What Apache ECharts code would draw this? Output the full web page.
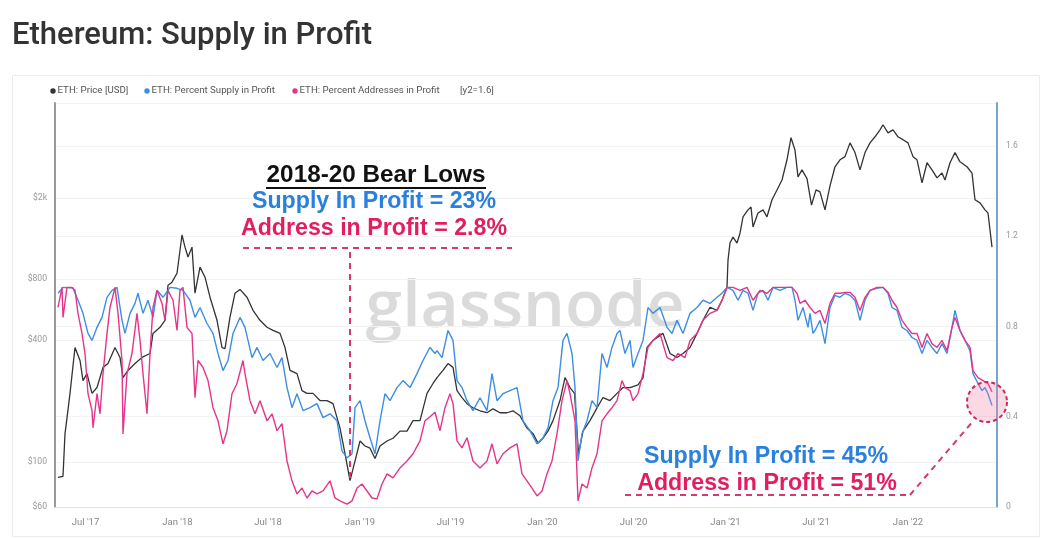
<!DOCTYPE html>
<html><head><meta charset="utf-8">
<script src="https://cdn.jsdelivr.net/npm/echarts@6/dist/echarts.min.js"></script>
<style>html,body{margin:0;padding:0;background:#fff;}#c{width:1044px;height:539px;}</style>
</head><body><div id="c"></div>
<script>
const chartTitle = 'Ethereum: Supply in Profit';
const seriesNames = ['ETH: Price [USD]', 'ETH: Percent Supply in Profit', 'ETH: Percent Addresses in Profit'];
const monthNames = ['Jan','Feb','Mar','Apr','May','Jun','Jul','Aug','Sep','Oct','Nov','Dec'];
const priceTicks = [60, 100, 400, 800, 2000];
const ratioTicks = [0, 0.4, 0.8, 1.2, 1.6];

const priceSeries = [
["2017-05-07",84],["2017-05-17",85],["2017-05-21",138],["2017-05-25",165],["2017-05-31",218],["2017-06-10",367],["2017-06-20",317],["2017-06-26",252],
["2017-07-04",273],["2017-07-14",218],["2017-07-24",233],["2017-08-05",293],["2017-08-15",306],["2017-08-29",367],["2017-09-08",328],["2017-09-14",261],
["2017-09-24",283],["2017-10-08",306],["2017-10-22",328],["2017-11-07",343],["2017-11-13",431],["2017-11-27",462],["2017-12-07",500],["2017-12-13",745],
["2017-12-21",771],["2017-12-31",853],["2018-01-10",1318],["2018-01-16",1148],["2018-01-22",1026],["2018-01-30",1148],["2018-02-05",680],["2018-02-15",915],
["2018-02-25",816],["2018-03-07",650],["2018-03-21",500],["2018-03-31",367],["2018-04-06",363],["2018-04-16",518],["2018-04-26",680],["2018-05-06",710],
["2018-05-20",650],["2018-06-01",560],["2018-06-15",500],["2018-06-29",462],["2018-07-11",446],["2018-07-25",431],["2018-08-04",367],["2018-08-14",283],
["2018-08-28",273],["2018-09-07",225],["2018-09-17",218],["2018-09-29",218],["2018-10-13",201],["2018-10-27",201],["2018-11-08",194],["2018-11-22",147],
["2018-12-02",110],["2018-12-12",81],["2018-12-22",101],["2019-01-01",127],["2019-01-11",120],["2019-01-21",117],["2019-01-31",104],["2019-02-10",120],
["2019-02-24",127],["2019-03-08",131],["2019-03-22",142],["2019-04-05",142],["2019-04-17",160],["2019-05-01",160],["2019-05-15",218],["2019-05-27",244],
["2019-06-04",261],["2019-06-16",283],["2019-06-26",306],["2019-07-06",293],["2019-07-14",225],["2019-07-24",208],["2019-08-03",194],["2019-08-15",185],
["2019-08-29",179],["2019-09-12",175],["2019-09-24",183],["2019-10-08",175],["2019-10-22",175],["2019-11-03",179],["2019-11-17",169],["2019-12-01",147],
["2019-12-13",138],["2019-12-23",124],["2020-01-02",131],["2020-01-12",142],["2020-01-22",160],["2020-02-05",201],["2020-02-15",261],["2020-02-25",233],
["2020-03-05",218],["2020-03-13",110],["2020-03-22",142],["2020-04-05",160],["2020-04-19",185],["2020-05-01",208],["2020-05-15",201],["2020-05-29",218],
["2020-06-10",233],["2020-06-24",233],["2020-07-10",240],["2020-07-20",260],["2020-07-28",367],["2020-08-09",398],["2020-08-29",431],["2020-09-12",343],
["2020-09-26",328],["2020-10-08",343],["2020-10-22",367],["2020-11-05",431],["2020-11-17",500],["2020-12-01",580],["2020-12-15",560],["2020-12-25",627],
["2021-01-04",728],["2021-01-06",990],["2021-01-10",1203],["2021-01-16",1286],["2021-01-24",1203],["2021-01-30",1345],["2021-02-05",1620],["2021-02-15",1752],
["2021-02-21",1812],["2021-02-25",1443],["2021-03-07",1692],["2021-03-17",1752],["2021-03-25",1620],["2021-04-04",1965],["2021-04-14",2198],["2021-04-24",2461],
["2021-05-04",3096],["2021-05-12",3977],["2021-05-20",3457],["2021-05-26",2550],["2021-06-03",2760],["2021-06-13",2500],["2021-06-22",1850],["2021-07-01",2200],
["2021-07-09",2150],["2021-07-19",1752],["2021-07-29",2300],["2021-08-08",2860],["2021-08-18",3096],["2021-08-28",3208],["2021-09-07",3752],["2021-09-17",3360],
["2021-09-27",2760],["2021-10-07",3360],["2021-10-17",3752],["2021-10-27",4020],["2021-11-06",4350],["2021-11-12",4610],["2021-11-22",4200],["2021-12-02",4350],
["2021-12-12",4020],["2021-12-22",3890],["2022-01-01",3752],["2022-01-11",3208],["2022-01-19",3096],["2022-01-29",2380],["2022-02-08",2994],["2022-02-18",2760],
["2022-02-28",2520],["2022-03-10",2665],["2022-03-16",2461],["2022-03-26",2994],["2022-04-05",3360],["2022-04-15",3025],["2022-04-29",2860],["2022-05-09",2660],
["2022-05-15",1965],["2022-05-25",1897],["2022-06-04",1752],["2022-06-10",1692],["2022-06-18",1148]
];

const supplySeries = [
["2017-05-07",0.947],["2017-05-17",0.973],["2017-06-06",0.97],["2017-06-16",0.916],["2017-06-26",0.858],["2017-07-06",0.769],["2017-07-14",0.738],["2017-07-24",0.796],
["2017-08-03",0.84],["2017-08-13",0.929],["2017-08-23",0.96],["2017-09-02",0.973],["2017-09-12",0.827],["2017-09-18",0.769],["2017-09-28",0.858],["2017-10-08",0.902],
["2017-10-14",0.947],["2017-10-24",0.858],["2017-11-03",0.916],["2017-11-13",0.84],["2017-11-21",0.96],["2017-12-03",0.929],["2017-12-17",0.973],["2017-12-31",0.969],
["2018-01-12",0.96],["2018-01-26",0.916],["2018-02-05",0.84],["2018-02-15",0.884],["2018-03-01",0.813],["2018-03-13",0.769],["2018-03-23",0.68],["2018-04-02",0.604],
["2018-04-12",0.649],["2018-04-22",0.769],["2018-05-06",0.84],["2018-05-16",0.796],["2018-05-30",0.662],["2018-06-09",0.707],["2018-06-21",0.649],["2018-07-05",0.68],
["2018-07-19",0.618],["2018-07-29",0.662],["2018-08-08",0.529],["2018-08-18",0.44],["2018-08-28",0.502],["2018-09-09",0.427],["2018-09-23",0.44],["2018-10-07",0.458],
["2018-10-19",0.396],["2018-11-02",0.413],["2018-11-16",0.382],["2018-11-26",0.249],["2018-12-06",0.218],["2018-12-16",0.236],["2018-12-22",0.44],["2019-01-01",0.471],
["2019-01-11",0.382],["2019-01-21",0.307],["2019-01-31",0.236],["2019-02-10",0.382],["2019-02-20",0.502],["2019-03-02",0.471],["2019-03-16",0.529],["2019-03-28",0.56],
["2019-04-11",0.529],["2019-04-25",0.591],["2019-05-07",0.649],["2019-05-21",0.707],["2019-05-31",0.68],["2019-06-04",0.693],["2019-06-14",0.662],["2019-06-26",0.782],
["2019-07-06",0.738],["2019-07-14",0.56],["2019-07-24",0.529],["2019-08-03",0.471],["2019-08-15",0.427],["2019-08-29",0.484],["2019-09-12",0.427],["2019-09-22",0.591],
["2019-10-02",0.471],["2019-10-14",0.502],["2019-10-28",0.516],["2019-11-11",0.529],["2019-11-23",0.382],["2019-12-07",0.338],["2019-12-21",0.28],["2020-01-02",0.307],
["2020-01-12",0.351],["2020-01-22",0.471],["2020-02-01",0.529],["2020-02-11",0.738],["2020-02-19",0.769],["2020-02-29",0.68],["2020-03-06",0.529],["2020-03-12",0.204],
["2020-03-20",0.324],["2020-03-30",0.382],["2020-04-09",0.471],["2020-04-19",0.44],["2020-04-29",0.68],["2020-05-09",0.618],["2020-05-19",0.707],["2020-05-29",0.769],
["2020-06-04",0.782],["2020-06-14",0.68],["2020-06-24",0.738],["2020-06-30",0.618],["2020-07-10",0.68],["2020-07-20",0.738],["2020-07-30",0.884],["2020-08-09",0.858],
["2020-08-23",0.884],["2020-09-06",0.796],["2020-09-16",0.769],["2020-09-26",0.827],["2020-10-08",0.769],["2020-10-22",0.858],["2020-11-05",0.884],["2020-11-17",0.916],
["2020-12-01",0.902],["2020-12-15",0.929],["2020-12-25",0.947],["2021-01-04",0.973],["2021-01-16",0.96],["2021-01-26",0.916],["2021-02-05",0.96],["2021-02-15",0.947],
["2021-02-25",0.871],["2021-03-07",0.947],["2021-03-17",0.96],["2021-03-27",0.916],["2021-04-06",0.973],["2021-04-20",0.96],["2021-05-04",0.973],["2021-05-14",0.973],
["2021-05-20",0.916],["2021-05-26",0.827],["2021-06-05",0.884],["2021-06-15",0.796],["2021-06-19",0.858],["2021-06-25",0.769],["2021-06-29",0.782],["2021-07-09",0.827],
["2021-07-19",0.724],["2021-07-29",0.884],["2021-08-08",0.938],["2021-08-18",0.929],["2021-08-28",0.947],["2021-09-07",0.938],["2021-09-17",0.916],["2021-09-27",0.827],
["2021-10-07",0.916],["2021-10-17",0.96],["2021-10-31",0.969],["2021-11-12",0.973],["2021-11-22",0.947],["2021-11-30",0.884],["2021-12-10",0.871],["2021-12-20",0.796],
["2021-12-30",0.782],["2022-01-09",0.751],["2022-01-19",0.738],["2022-01-29",0.68],["2022-02-08",0.738],["2022-02-18",0.707],["2022-02-28",0.68],["2022-03-10",0.724],
["2022-03-20",0.68],["2022-03-30",0.796],["2022-04-05",0.871],["2022-04-15",0.782],["2022-04-25",0.738],["2022-05-05",0.693],["2022-05-11",0.591],["2022-05-21",0.547],
["2022-05-29",0.516],["2022-06-04",0.529],["2022-06-10",0.502],["2022-06-18",0.45]
];

const addressSeries = [
["2017-05-07",0.884],["2017-05-15",0.973],["2017-05-17",0.84],["2017-05-25",0.973],["2017-06-04",0.973],["2017-06-10",0.96],["2017-06-16",0.858],["2017-06-24",0.769],
["2017-06-30",0.68],["2017-07-06",0.502],["2017-07-14",0.427],["2017-07-16",0.351],["2017-07-24",0.502],["2017-07-30",0.413],["2017-08-05",0.591],["2017-08-13",0.769],
["2017-08-19",0.884],["2017-08-29",0.973],["2017-09-04",0.858],["2017-09-12",0.649],["2017-09-14",0.324],["2017-09-22",0.591],["2017-10-02",0.68],["2017-10-12",0.858],
["2017-10-18",0.738],["2017-10-24",0.591],["2017-11-01",0.413],["2017-11-07",0.68],["2017-11-13",0.884],["2017-11-21",0.96],["2017-12-01",0.902],["2017-12-07",0.827],
["2017-12-13",0.96],["2017-12-23",0.916],["2017-12-31",0.782],["2018-01-06",0.96],["2018-01-12",0.973],["2018-01-20",0.796],["2018-01-30",0.769],["2018-02-05",0.484],
["2018-02-11",0.649],["2018-02-21",0.618],["2018-03-03",0.56],["2018-03-13",0.44],["2018-03-23",0.382],["2018-04-02",0.28],["2018-04-10",0.338],["2018-04-20",0.502],
["2018-04-30",0.547],["2018-05-12",0.649],["2018-05-16",0.591],["2018-05-26",0.471],["2018-06-05",0.413],["2018-06-15",0.471],["2018-06-29",0.382],["2018-07-09",0.413],
["2018-07-19",0.338],["2018-07-29",0.369],["2018-08-08",0.204],["2018-08-18",0.116],["2018-08-28",0.058],["2018-09-07",0.084],["2018-09-17",0.04],["2018-09-27",0.071],
["2018-10-07",0.058],["2018-10-19",0.071],["2018-11-02",0.116],["2018-11-12",0.04],["2018-11-22",0.027],["2018-12-06",0.013],["2018-12-16",0.027],["2018-12-26",0.084],
["2019-01-05",0.102],["2019-01-15",0.071],["2019-01-25",0.04],["2019-02-04",0.036],["2019-02-14",0.102],["2019-02-24",0.147],["2019-03-08",0.129],["2019-03-22",0.173],
["2019-04-05",0.204],["2019-04-17",0.236],["2019-05-01",0.293],["2019-05-11",0.382],["2019-05-21",0.40],["2019-05-31",0.42],["2019-06-10",0.338],["2019-06-20",0.44],
["2019-06-30",0.502],["2019-07-06",0.458],["2019-07-14",0.293],["2019-07-24",0.262],["2019-08-03",0.307],["2019-08-15",0.204],["2019-08-29",0.173],["2019-09-12",0.204],
["2019-09-22",0.28],["2019-10-02",0.191],["2019-10-14",0.236],["2019-10-28",0.262],["2019-11-11",0.28],["2019-11-21",0.147],["2019-12-01",0.116],["2019-12-11",0.084],
["2019-12-21",0.049],["2019-12-31",0.071],["2020-01-10",0.147],["2020-01-20",0.204],["2020-01-30",0.324],["2020-02-09",0.471],["2020-02-19",0.56],["2020-02-25",0.502],
["2020-03-06",0.382],["2020-03-12",0.027],["2020-03-20",0.102],["2020-03-30",0.084],["2020-04-09",0.173],["2020-04-19",0.236],["2020-04-29",0.382],["2020-05-09",0.413],
["2020-05-19",0.44],["2020-05-29",0.471],["2020-06-08",0.56],["2020-06-14",0.529],["2020-06-24",0.516],["2020-06-30",0.471],["2020-07-10",0.502],["2020-07-20",0.591],
["2020-07-30",0.707],["2020-08-09",0.738],["2020-08-23",0.769],["2020-09-06",0.662],["2020-09-18",0.649],["2020-09-28",0.68],["2020-10-12",0.662],["2020-10-22",0.738],
["2020-11-05",0.769],["2020-11-17",0.827],["2020-12-01",0.858],["2020-12-15",0.871],["2020-12-25",0.916],["2021-01-04",0.973],["2021-01-16",0.973],["2021-01-30",0.96],
["2021-02-13",0.973],["2021-02-25",0.916],["2021-03-11",0.96],["2021-03-25",0.947],["2021-04-06",0.973],["2021-04-26",0.973],["2021-05-14",0.973],["2021-05-24",0.947],
["2021-05-30",0.902],["2021-06-09",0.916],["2021-06-19",0.884],["2021-06-29",0.858],["2021-07-09",0.871],["2021-07-19",0.813],["2021-07-29",0.902],["2021-08-08",0.947],
["2021-08-18",0.947],["2021-08-28",0.951],["2021-09-07",0.951],["2021-09-17",0.929],["2021-09-27",0.871],["2021-10-07",0.929],["2021-10-17",0.96],["2021-10-31",0.973],
["2021-11-12",0.973],["2021-11-22",0.951],["2021-11-30",0.916],["2021-12-10",0.884],["2021-12-20",0.827],["2021-12-30",0.796],["2022-01-09",0.769],["2022-01-19",0.769],
["2022-01-29",0.707],["2022-02-08",0.769],["2022-02-18",0.724],["2022-02-28",0.707],["2022-03-10",0.738],["2022-03-20",0.693],["2022-03-30",0.796],["2022-04-05",0.84],
["2022-04-15",0.782],["2022-04-25",0.738],["2022-05-05",0.707],["2022-05-11",0.604],["2022-05-21",0.573],["2022-05-31",0.56],["2022-06-10",0.547],["2022-06-18",0.51]
];

const annoTop = ['2018-20 Bear Lows', 'Supply In Profit = 23%', 'Address in Profit = 2.8%'];
const annoBottom = ['Supply In Profit = 45%', 'Address in Profit = 51%'];

const C_PRICE = '#333333', C_SUPPLY = '#3d8ee4', C_ADDR = '#e5358a';
const T_BLUE = '#2a80df', T_PINK = '#e01e60', DASH = '#d8396c';
const FONT = 'Roboto, "Noto Sans", sans-serif';
const AFONT = '"Liberation Sans", Arial, sans-serif';
const HALF_YEAR = 182.5 * 24 * 3600 * 1000;

const chart = echarts.init(document.getElementById('c'));

function fmtX(v) {
  const d = new Date(v);
  return monthNames[d.getMonth()] + " '" + String(d.getFullYear()).slice(2);
}
function fmtPrice(v) {
  const r = Math.round(v);
  return r >= 1000 ? '$' + (r / 1000) + 'k' : '$' + r;
}

const legendX = [50, 144, 292];
const legendColors = [C_PRICE, C_SUPPLY, C_ADDR];
const legendGraphics = [];
seriesNames.forEach((n, i) => {
  legendGraphics.push({type:'circle', shape:{cx:legendX[i] + 3, cy:91, r:2.7}, style:{fill:legendColors[i]}, silent:true});
  legendGraphics.push({type:'text', style:{x:legendX[i] + 7.5, y:91, text:n, fill:'#555', font:'9.7px ' + FONT, textVerticalAlign:'middle', verticalAlign:'middle'}, silent:true});
});
legendGraphics.push({type:'text', style:{x:460, y:91, text:'[y2=1.6]', fill:'#555', font:'9.7px ' + FONT, textVerticalAlign:'middle', verticalAlign:'middle'}, silent:true});

function label(x, y, text, color, size) {
  return {type:'text', z:50, silent:true, style:{x:x, y:y, text:text, fill:color, font:'bold ' + size + 'px ' + AFONT,
    textAlign:'center', align:'center', textVerticalAlign:'middle', verticalAlign:'middle'}};
}
function dline(x1, y1, x2, y2) {
  return {type:'line', z:50, silent:true, shape:{x1:x1, y1:y1, x2:x2, y2:y2}, style:{stroke:DASH, lineWidth:2, lineDash:[6,5]}};
}

const option = {
  animation: false,
  backgroundColor: '#fff',
  title: {text: chartTitle, left: 7, top: 16, textStyle: {fontSize: 31, fontWeight: 500, color: '#333', fontFamily: FONT}},
  grid: {left: 55, right: 47, top: 103, bottom: 32},
  xAxis: {
    type: 'time', min: '2017-05-01', max: '2022-06-28',
    minInterval: HALF_YEAR, maxInterval: HALF_YEAR,
    axisLine: {show: true, lineStyle: {color: '#e3e3e3', width: 1}},
    axisTick: {show: false},
    splitLine: {show: false},
    axisLabel: {formatter: fmtX, color: '#888', fontSize: 9.5, fontFamily: FONT, margin: 11, hideOverlap: false}
  },
  yAxis: [
    {type: 'log', min: 60, max: 5900, position: 'left',
     axisLine: {show: true, lineStyle: {color: '#9a9a9a', width: 2}},
     axisTick: {show: false, customValues: priceTicks},
     axisLabel: {customValues: priceTicks, formatter: fmtPrice, color: '#999', fontSize: 8.6, fontFamily: FONT, margin: 8},
     splitLine: {show: true, lineStyle: {color: '#f3f3f3'}}},
    {type: 'value', min: 0, max: 1.79, interval: 0.4, position: 'right',
     axisLine: {show: true, lineStyle: {color: '#79a5c9', width: 2}},
     axisTick: {show: false},
     axisLabel: {showMaxLabel: false, color: '#999', fontSize: 8.6, fontFamily: FONT, margin: 9},
     splitLine: {show: true, lineStyle: {color: '#f3f3f3'}}}
  ],
  series: [
    {name: seriesNames[0], type: 'line', yAxisIndex: 0, data: priceSeries, showSymbol: false, z: 3,
     lineStyle: {color: C_PRICE, width: 1.3}, itemStyle: {color: C_PRICE}},
    {name: seriesNames[1], type: 'line', yAxisIndex: 1, data: supplySeries, showSymbol: false, z: 4,
     lineStyle: {color: C_SUPPLY, width: 1.4}, itemStyle: {color: C_SUPPLY}},
    {name: seriesNames[2], type: 'line', yAxisIndex: 1, data: addressSeries, showSymbol: false, z: 5,
     lineStyle: {color: C_ADDR, width: 1.4}, itemStyle: {color: C_ADDR}}
  ],
  graphic: [
    {type: 'rect', silent: true, z: -10, shape: {x: 12.5, y: 75.5, width: 1027, height: 461}, style: {fill: 'none', stroke: '#ececec', lineWidth: 1}},
    {type: 'text', silent: true, z: -5, style: {x: 525, y: 308, text: 'glassnode', fill: 'rgba(200,200,200,0.65)', font: '600 66px "Open Sans", sans-serif',
      textAlign: 'center', align: 'center', textVerticalAlign: 'middle', verticalAlign: 'middle'}},
    ...legendGraphics,
    label(376, 175, annoTop[0], '#111', 24.3),
    {type: 'line', z: 50, silent: true, shape: {x1: 266, y1: 188, x2: 486, y2: 188}, style: {stroke: '#111', lineWidth: 2}},
    label(374, 202, annoTop[1], T_BLUE, 23.2),
    label(374, 229, annoTop[2], T_PINK, 23.2),
    dline(243, 248, 512, 248),
    dline(350, 252, 350, 482),
    label(766, 457, annoBottom[0], T_BLUE, 23.2),
    label(767, 484, annoBottom[1], T_PINK, 23.2),
    dline(625, 495, 910, 495),
    dline(910, 495, 974, 420),
    {type: 'circle', z: 40, silent: true, shape: {cx: 987, cy: 402, r: 20}, style: {fill: 'rgba(238,130,170,0.3)', stroke: '#c92a5c', lineWidth: 2, lineDash: [4, 3]}}
  ]
};
chart.setOption(option);
</script>
</body></html>
